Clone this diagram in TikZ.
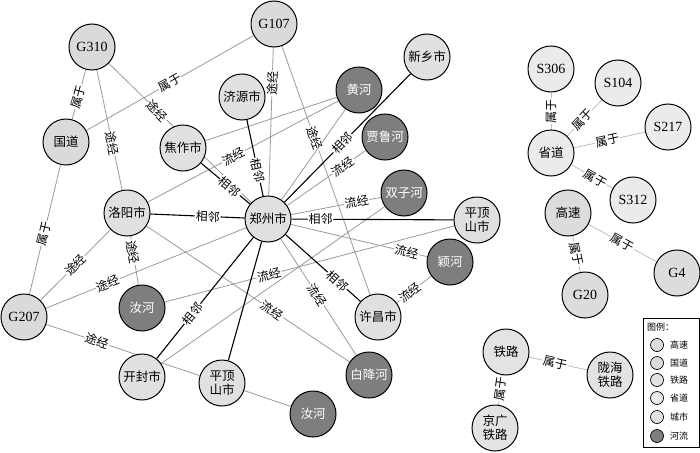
\documentclass[tikz,border=0pt]{standalone}
\usepackage{fontspec}
\setmainfont{Liberation Serif}
\newfontfamily\cjk{Noto Sans CJK SC}
\pgfdeclarelayer{background}
\pgfsetlayers{background,main}
\definecolor{cityc}{HTML}{E0E0E0}
\definecolor{natc}{HTML}{DADADA}
\definecolor{hwyc}{HTML}{DCDCDC}
\definecolor{railc}{HTML}{E3E3E3}
\definecolor{provc}{HTML}{EBEBEB}
\definecolor{riverc}{HTML}{7E7E7E}
\definecolor{edgeg}{HTML}{9A9A9A}
\definecolor{edgel}{HTML}{BDBDBD}
\tikzset{
  nd/.style={circle, draw=black, line width=1pt, minimum size=46pt, inner sep=0pt,
    align=center, fill=cityc, font=\cjk\fontsize{12.5}{14}\selectfont},
  city/.style={nd},
  river/.style={nd, fill=riverc, text=white},
  natl/.style={nd, fill=natc, font=\fontsize{14}{15}\selectfont},
  hwy/.style={nd, fill=hwyc, font=\fontsize{14}{15}\selectfont},
  prov/.style={nd, fill=provc, font=\fontsize{14}{15}\selectfont},
  cjkn/.style={font=\cjk\fontsize{12.5}{14}\selectfont},
  rail/.style={nd, fill=railc},
  ge/.style={draw=edgeg, line width=0.8pt},
  le/.style={draw=edgel, line width=0.8pt},
  be/.style={draw=black, line width=1.1pt},
  lb/.style={fill=white, inner sep=0.8pt, sloped, font=\cjk\fontsize{12}{12}\selectfont},
  legc/.style={circle, draw=black, line width=0.7pt, minimum size=13pt, inner sep=0pt},
  legt/.style={font=\cjk\fontsize{9}{10}\selectfont, anchor=west, inner sep=0pt}
}
\begin{document}
\begin{tikzpicture}[x=1pt,y=-1pt]
\useasboundingbox (0,0) rectangle (700,452);
% nodes
\node[natl] (g310) at (92,47) {G310};
\node[natl] (g107) at (274,24) {G107};
\node[city] (xx) at (427,57) {新乡市};
\node[city] (jy) at (242,97) {济源市};
\node[river] (hh) at (359,90) {黄河};
\node[natl,cjkn] (gd) at (66,142) {国道};
\node[city] (jz) at (183,148) {焦作市};
\node[river] (jlh) at (385,137) {贾鲁河};
\node[city] (ly) at (127,213) {洛阳市};
\node[city] (zz) at (268,219) {郑州市};
\node[river] (szh) at (404,193) {双子河};
\node[city] (pdr) at (477,220) {平顶\\山市};
\node[river] (yh) at (450,262) {颖河};
\node[river] (rhl) at (142,308) {汝河};
\node[natl] (g207) at (24,317) {G207};
\node[city] (xc) at (378,317) {许昌市};
\node[city] (kf) at (142,377) {开封市};
\node[city] (pdb) at (222,383) {平顶\\山市};
\node[river] (bjh) at (369,375) {白降河};
\node[river] (rhb) at (313,414) {汝河};
% right cluster
\node[prov] (s306) at (551,69) {S306};
\node[prov] (s104) at (618,83) {S104};
\node[prov,cjkn] (sd) at (551,153) {省道};
\node[prov] (s217) at (668,127) {S217};
\node[prov] (s312) at (633,200) {S312};
\node[hwy,cjkn] (gs) at (568,213) {高速};
\node[hwy] (g4) at (677,273) {G4};
\node[hwy] (g20) at (585,295) {G20};
\node[rail] (tl) at (506,352) {铁路};
\node[rail] (lh) at (610,375) {陇海\\铁路};
\node[rail] (jg) at (495,428) {京广\\铁路};
% legend
\node[draw=black, line width=0.6pt, fill=white, minimum width=56pt, minimum height=129pt, inner sep=0pt, anchor=north west] (leg) at (643,318) {};
\node[legt] (legtitle) at (647,327) {图例：};
\node[legc, fill=hwyc] (l1) at (657,345) {};
\node[legt] (l1t) at (670,345) {高速};
\node[legc, fill=natc] (l2) at (657,363) {};
\node[legt] (l2t) at (670,363) {国道};
\node[legc, fill=railc] (l3) at (657,380) {};
\node[legt] (l3t) at (670,380) {铁路};
\node[legc, fill=provc] (l4) at (657,398) {};
\node[legt] (l4t) at (670,398) {省道};
\node[legc, fill=cityc] (l5) at (657,417) {};
\node[legt] (l5t) at (670,417) {城市};
\node[legc, fill=riverc] (l6) at (657,436) {};
\node[legt] (l6t) at (670,436) {河流};
% edges
\begin{pgfonlayer}{background}
\draw[ge] (g310) -- node[lb,pos=0.55] {属于} (gd);
\draw[ge] (g310) -- node[lb,pos=0.61] {途经} (ly);
\draw[ge] (g310) -- node[lb,pos=0.34] {途经} (zz);
\draw[ge] (gd) -- node[lb,pos=0.5] {属于} (g107);
\draw[ge] (gd) -- node[lb,pos=0.53] {属于} (g207);
\draw[ge] (g107) -- node[lb,pos=0.24] {途经} (zz);
\draw[ge] (g107) -- node[lb,pos=0.37] {途经} (xc);
\draw[ge] (jz) -- (hh);
\draw[ge] (ly) -- node[lb,pos=0.45] {流经} (hh);
\draw[ge] (zz) -- (hh);
\draw[ge] (zz) -- node[lb,pos=0.71] {流经} (jlh);
\draw[ge] (zz) -- node[lb,pos=0.73] {流经} (szh);
\draw[ge] (zz) -- node[lb,pos=0.85] {流经} (yh);
\draw[ge] (zz) -- node[lb,pos=0.48] {流经} (bjh);
\draw[ge] (ly) -- node[lb,pos=0.5] {途经} (g207);
\draw[ge] (ly) -- node[lb,pos=0.33] {途经} (rhl);
\draw[ge] (ly) -- node[lb,pos=0.62] {流经} (bjh);
\draw[ge] (g207) -- node[lb,pos=0.31] {途经} (zz);
\draw[ge] (g207) -- node[lb,pos=0.33] {途经} (pdb);
\draw[ge] (rhl) -- node[lb,pos=0.36] {流经} (pdr);
\draw[ge] (szh) -- (kf);
\draw[ge] (xc) -- node[lb,pos=0.38] {流经} (yh);
\draw[ge] (pdb) -- (rhb);
\draw[be] (jy) -- node[lb,pos=0.66] {相邻} (zz);
\draw[be] (jz) -- node[lb,pos=0.59] {相邻} (zz);
\draw[be] (zz) -- node[lb,pos=0.46] {相邻} (xx);
\draw[be] (zz) -- node[lb,pos=0.18] {相邻} (pdr);
\draw[be] (zz) -- node[lb,pos=0.69] {相邻} (xc);
\draw[be] (zz) -- node[lb,pos=0.63] {相邻} (kf);
\draw[be] (zz) -- (pdb);
\draw[be] (ly) -- node[lb,pos=0.61] {相邻} (zz);
\draw[le] (sd) -- node[lb,pos=0.5] {属于} (s306);
\draw[le] (sd) -- node[lb,pos=0.45] {属于} (s104);
\draw[le] (sd) -- node[lb,pos=0.47] {属于} (s217);
\draw[le] (sd) -- node[lb,pos=0.58] {属于} (s312);
\draw[le] (gs) -- node[lb,pos=0.5] {属于} (g4);
\draw[le] (gs) -- node[lb,pos=0.5] {属于} (g20);
\draw[le] (tl) -- node[lb,pos=0.45] {属于} (lh);
\draw[le] (tl) -- node[lb,pos=0.45] {属于} (jg);
\end{pgfonlayer}
\end{tikzpicture}
\end{document}
